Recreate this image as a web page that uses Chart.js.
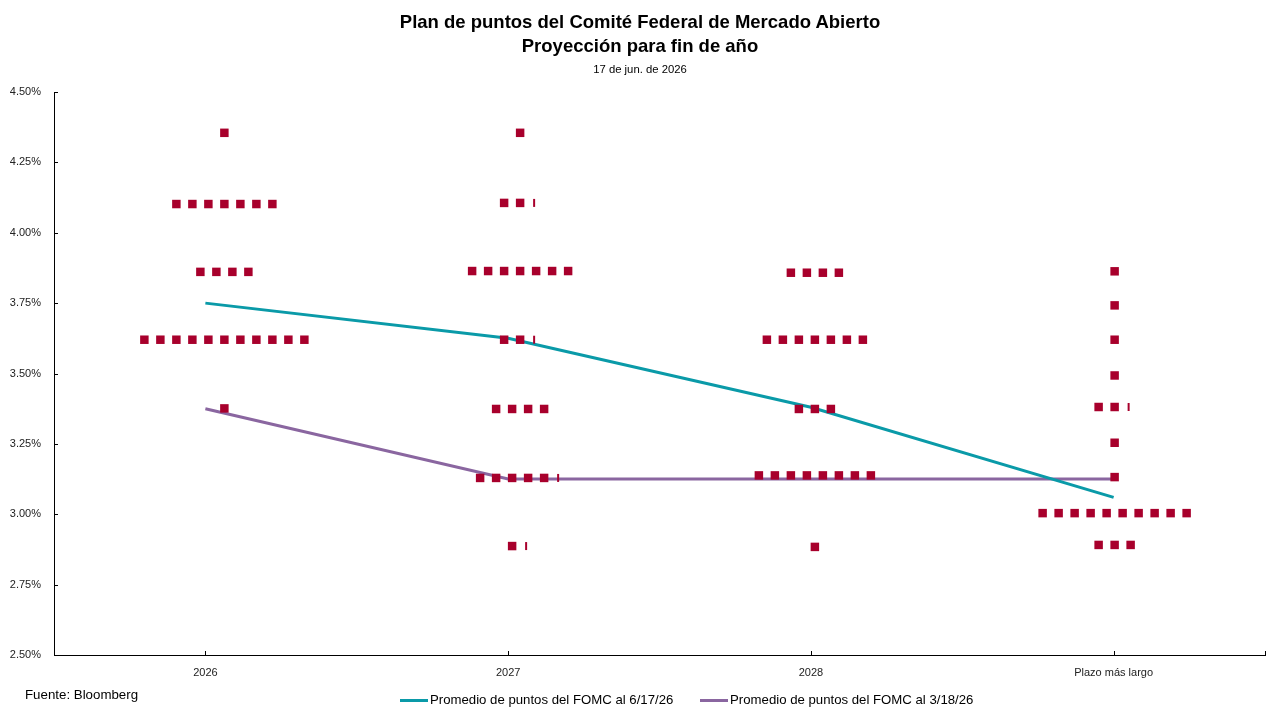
<!DOCTYPE html>
<html>
  <head>
    <style>
      * {
        margin: 0;
        padding: 0;
        font-family: "Liberation Sans", Arial, sans-serif;
      }
      body {
        width: 1280px;
        height: 720px;
        overflow: hidden;
        background: #fff;
        position: relative;
      }
      .chartBox {
        position: absolute;
        left: 0;
        top: 0;
        width: 1280px;
        height: 720px;
      }
      .title {
        position: absolute;
        top: 10px;
        width: 1280px;
        text-align: center;
        font-size: 18.5px;
        font-weight: bold;
        line-height: 24px;
        color: #000;
      }
      .subtitle {
        position: absolute;
        top: 62px;
        width: 1280px;
        text-align: center;
        font-size: 11.3px;
        line-height: 14px;
        color: #000;
      }
      .source {
        position: absolute;
        left: 25px;
        top: 687px;
        font-size: 13.3px;
        line-height: 16px;
        color: #000;
      }
      .legend {
        position: absolute;
        left: 400px;
        top: 692px;
        font-size: 13.2px;
        line-height: 16px;
        color: #000;
        white-space: nowrap;
      }
      .legend span.swatch {
        display: inline-block;
        width: 28px;
        height: 3px;
        vertical-align: middle;
        margin-right: 2px;
      }
      .legend span.item {
        margin-right: 23px;
      }
    </style>
  </head>
  <body>
    <div class="chartBox">
      <canvas id="myChart"></canvas>
    </div>
    <div class="title">
      Plan de puntos del Comité Federal de Mercado Abierto<br />Proyección para fin de año
    </div>
    <div class="subtitle">17 de jun. de 2026</div>
    <div class="source">Fuente: Bloomberg</div>
    <div class="legend">
      <span class="item"><span class="swatch" style="background: #0a9aa8"></span>Promedio de puntos del FOMC al 6/17/26</span>
      <span class="item"><span class="swatch" style="background: #8a66a0"></span>Promedio de puntos del FOMC al 3/18/26</span>
    </div>

    <script src="https://cdn.jsdelivr.net/npm/chart.js/dist/chart.umd.min.js"></script>
    <script>
      // categories on the x axis
      const categories = ["2026", "2027", "2028", "Plazo más largo"];

      // dot rows per category: rate level and number of dots (fraction = partial dot)
      const rates2026 = [4.355, 4.102, 3.861, 3.62, 3.376];
      const counts2026 = [1, 7, 4, 11, 1];
      const rates2027 = [4.355, 4.106, 3.864, 3.62, 3.374, 3.129, 2.887];
      const counts2027 = [1, 2.3, 7, 2.3, 4, 5.3, 1.3];
      const rates2028 = [3.858, 3.62, 3.374, 3.138, 2.884];
      const counts2028 = [4, 7, 3, 8, 1];
      const ratesLonger = [3.863, 3.742, 3.62, 3.493, 3.381, 3.254, 3.132, 3.004, 2.891];
      const countsLonger = [1, 1, 1, 1, 2.3, 1, 1, 10, 3];

      // median lines
      const medianJun = [3.75, 3.625, 3.38, 3.06];
      const medianMar = [3.375, 3.125, 3.125, 3.125];

      // y tick values
      const yTicks = [2.5, 2.75, 3.0, 3.25, 3.5, 3.75, 4.0, 4.25, 4.5];

      // layout of the dots (px converted to axis units, 1 unit ~ 303px)
      const unitPx = 1211 / 4;
      const dotStep = 16 / unitPx;
      const groupShift = [19 / unitPx, 12 / unitPx, 4 / unitPx, 1 / unitPx];

      const groups = [
        [rates2026, counts2026],
        [rates2027, counts2027],
        [rates2028, counts2028],
        [ratesLonger, countsLonger],
      ];

      const fullDots = [];
      const partDots = [];
      groups.forEach(([rates, counts], g) => {
        const center = g + 0.5 + groupShift[g];
        rates.forEach((r, k) => {
          const slots = Math.ceil(counts[k]);
          const whole = Math.floor(counts[k]);
          for (let i = 0; i < slots; i++) {
            const x = center + (i - (slots - 1) / 2) * dotStep;
            if (i < whole) fullDots.push({ x: x, y: r });
            else partDots.push({ x: x - 2 / unitPx, y: r });
          }
        });
      });

      const lineX = categories.map((c, i) => i + 0.5);

      // inward tick marks on both axes
      const axisTicks = {
        id: "axisTicks",
        afterDraw(chart) {
          const { ctx, chartArea, scales } = chart;
          ctx.save();
          ctx.strokeStyle = "#000";
          ctx.lineWidth = 1;
          ctx.beginPath();
          yTicks.forEach((v) => {
            const y = Math.round(scales.y.getPixelForValue(v)) + 0.5;
            ctx.moveTo(chartArea.left, y);
            ctx.lineTo(chartArea.left + 4, y);
          });
          lineX.concat([4]).forEach((v) => {
            const x = Math.round(scales.x.getPixelForValue(v)) + 0.5;
            ctx.moveTo(x, chartArea.bottom);
            ctx.lineTo(x, chartArea.bottom - 4);
          });
          ctx.stroke();
          ctx.restore();
        },
      };

      const data = {
        datasets: [
          {
            type: "scatter",
            label: "dots",
            data: fullDots,
            pointStyle: "rect",
            pointRadius: 6,
            pointBorderWidth: 0,
            backgroundColor: "#a8002c",
            borderColor: "#a8002c",
            order: 1,
          },
          {
            type: "scatter",
            label: "partial",
            data: partDots,
            pointStyle: "line",
            pointRotation: 90,
            pointRadius: 4,
            pointBorderWidth: 2,
            borderColor: "#a8002c",
            backgroundColor: "#a8002c",
            order: 1,
          },
          {
            type: "line",
            label: "Promedio de puntos del FOMC al 6/17/26",
            data: lineX.map((x, i) => ({ x: x, y: medianJun[i] })),
            borderColor: "#0a9aa8",
            borderWidth: 3,
            pointRadius: 0,
            tension: 0,
            order: 2,
          },
          {
            type: "line",
            label: "Promedio de puntos del FOMC al 3/18/26",
            data: lineX.map((x, i) => ({ x: x, y: medianMar[i] })),
            borderColor: "#8a66a0",
            borderWidth: 3,
            pointRadius: 0,
            tension: 0,
            order: 3,
          },
        ],
      };

      // config
      const config = {
        type: "scatter",
        data,
        options: {
          responsive: true,
          maintainAspectRatio: false,
          animation: false,
          layout: {
            padding: { top: 92, right: 15, bottom: 35, left: 0 },
          },
          plugins: {
            legend: { display: false },
            tooltip: { enabled: false },
          },
          scales: {
            x: {
              type: "linear",
              min: 0,
              max: 4,
              grid: { display: false, drawTicks: false },
              border: { display: true, color: "#000", width: 1 },
              afterBuildTicks: (scale) => {
                scale.ticks = lineX.map((v) => ({ value: v }));
              },
              afterFit: (scale) => {
                scale.height = 30;
              },
              ticks: {
                autoSkip: false,
                maxRotation: 0,
                padding: 11,
                color: "#222",
                font: { size: 11, family: "Liberation Sans" },
                callback: (v, i) => categories[i],
              },
            },
            y: {
              min: 2.5,
              max: 4.5,
              grid: { display: false, drawTicks: false },
              border: { display: true, color: "#000", width: 1 },
              afterBuildTicks: (scale) => {
                scale.ticks = yTicks.map((v) => ({ value: v }));
              },
              afterFit: (scale) => {
                scale.width = 54;
              },
              ticks: {
                padding: 13,
                color: "#222",
                font: { size: 11, family: "Liberation Sans" },
                callback: (v) => v.toFixed(2) + "%",
              },
            },
          },
        },
        plugins: [axisTicks],
      };

      // render init block
      const myChart = new Chart(document.getElementById("myChart"), config);
    </script>
  </body>
</html>
